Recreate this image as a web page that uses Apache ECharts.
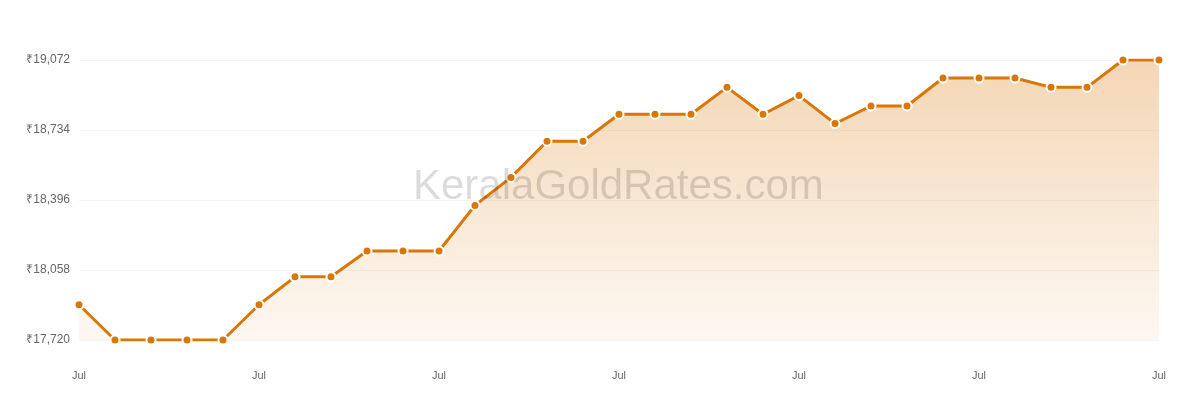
<!DOCTYPE html>
<html>
<head>
<meta charset="utf-8">
<script src="https://cdn.jsdelivr.net/npm/echarts@6/dist/echarts.min.js"></script>
<style>
html,body{margin:0;padding:0;background:#fff;}
#chart{width:1200px;height:400px;}
</style>
</head>
<body>
<div id="chart"></div>
<script>
var days=[];
for(var d=1;d<=31;d++){
    days.push('Jul '+(d<10?'0'+d:d));
}
var rates=[17890,17720,17720,17720,17720,17890,18025,18025,18150,18150,18150,
    18370,18505,18680,18680,18810,18810,18810,18940,18810,18900,18765,
    18850,18850,18985,18985,18985,18940,18940,19072,19072];
var yMin=17720;
var yMax=19072;
var yStep=338;

var chart=echarts.init(document.getElementById('chart'));
var option={
    animation:false,
    grid:{left:79,right:41,top:60,bottom:60},
    graphic:[{
        type:'text',
        left:413,
        top:166,
        silent:true,
        z:100,
        style:{
            text:'KeralaGoldRates.com',
            font:'42px "Liberation Sans", Arial, sans-serif',
            fill:'rgba(0,0,0,0.14)'
        }
    }],
    xAxis:{
        type:'category',
        data:days,
        boundaryGap:false,
        axisLine:{show:false},
        axisTick:{show:false},
        axisLabel:{
            interval:4,
            margin:30,
            color:'#666',
            fontSize:11,
            fontFamily:'"Liberation Sans", Arial, sans-serif',
            formatter:function(v){return v.split(' ')[0];}
        }
    },
    yAxis:{
        type:'value',
        min:yMin,
        max:yMax,
        interval:yStep,
        axisLine:{show:false},
        axisTick:{show:false},
        splitLine:{lineStyle:{color:'#f4f4f4',width:1}},
        axisLabel:{
            margin:9,
            color:'#666',
            fontSize:12,
            fontFamily:'"Liberation Sans", Arial, sans-serif',
            formatter:function(v){return '₹'+v.toLocaleString('en-US');}
        }
    },
    series:[{
        type:'line',
        data:rates,
        symbol:'circle',
        symbolSize:9,
        showAllSymbol:true,
        lineStyle:{color:'#d97706',width:3},
        itemStyle:{color:'#d97706',borderColor:'#fff',borderWidth:2},
        areaStyle:{
            opacity:1,
            color:new echarts.graphic.LinearGradient(0,0,0,1,[
                {offset:0,color:'rgba(217,119,6,0.3)'},
                {offset:1,color:'rgba(217,119,6,0.05)'}
            ])
        }
    }]
};
chart.setOption(option);
window.onresize=chart.resize;
</script>
</body>
</html>
